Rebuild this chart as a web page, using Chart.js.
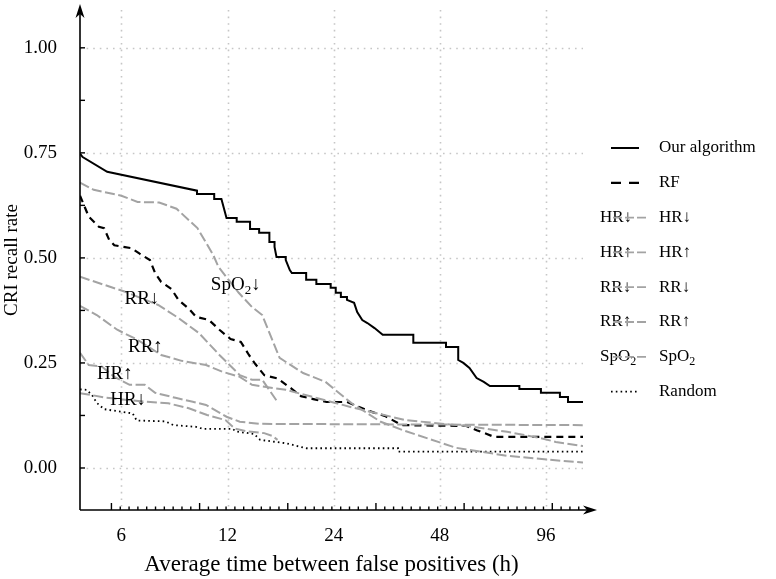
<!DOCTYPE html>
<html>
<head>
<meta charset="utf-8">
<script src="https://cdn.jsdelivr.net/npm/chart.js@4.4.0/dist/chart.umd.min.js"></script>
<style>
  html, body { margin: 0; padding: 0; background: #fff; }
</style>
</head>
<body>
<canvas id="criChart" width="776" height="579"></canvas>
<script>
// [average hours between false positives, CRI recall rate]
var ourAlgorithm = [
  [4.58, 0.748], [4.66, 0.74], [5.47, 0.705], [9.83, 0.66], [9.83, 0.652], [11.0, 0.652],
  [11.0, 0.64], [11.53, 0.64], [11.92, 0.595], [12.74, 0.595], [12.74, 0.586], [13.9, 0.586],
  [13.9, 0.569], [14.75, 0.569], [14.75, 0.56], [15.77, 0.56], [15.77, 0.538], [16.31, 0.538],
  [16.31, 0.526], [16.52, 0.502], [17.55, 0.502], [17.55, 0.495], [18.02, 0.471], [18.26, 0.464],
  [20.05, 0.464], [20.05, 0.448], [21.43, 0.448], [21.43, 0.438], [23.53, 0.438], [23.53, 0.429],
  [24.32, 0.429], [24.32, 0.417], [25.15, 0.417], [25.15, 0.407], [26.17, 0.407], [26.17, 0.4],
  [27.42, 0.393], [27.98, 0.371], [28.92, 0.352], [29.9, 0.345], [31.33, 0.333], [33.05, 0.317],
  [40.36, 0.317], [40.36, 0.298], [49.96, 0.298], [49.96, 0.288], [54.11, 0.288], [54.11, 0.257],
  [55.95, 0.25], [58.23, 0.238], [61.02, 0.214], [63.93, 0.205], [66.54, 0.195], [80.66, 0.195],
  [80.66, 0.188], [92.85, 0.188], [92.85, 0.179], [105.1, 0.179], [105.1, 0.169], [110.8, 0.169],
  [110.8, 0.157], [122.2, 0.157]
];
var rf = [
  [4.58, 0.648], [4.85, 0.598], [5.18, 0.574], [5.36, 0.571], [5.54, 0.543], [5.73, 0.53],
  [6.41, 0.523], [6.76, 0.51], [7.23, 0.495], [7.48, 0.464], [7.78, 0.443], [8.32, 0.426],
  [8.71, 0.4], [9.32, 0.379], [9.76, 0.36], [10.64, 0.352], [11.38, 0.329], [12.24, 0.307],
  [13.09, 0.3], [13.8, 0.269], [14.37, 0.248], [15.25, 0.221], [16.63, 0.213], [18.14, 0.19],
  [19.39, 0.171], [21.0, 0.164], [22.91, 0.157], [26.17, 0.157], [28.35, 0.145], [30.92, 0.133],
  [33.49, 0.124], [36.52, 0.107], [37.76, 0.102], [57.08, 0.1], [61.02, 0.09], [65.22, 0.081],
  [68.34, 0.074], [122.2, 0.074]
];
var spo2Down = [
  [4.58, 0.679], [5.01, 0.662], [6.0, 0.648], [6.67, 0.633], [7.68, 0.632], [8.6, 0.617],
  [9.86, 0.571], [10.93, 0.507], [11.3, 0.479], [12.91, 0.417], [14.08, 0.383], [15.05, 0.364],
  [16.86, 0.262], [19.65, 0.226], [22.75, 0.205], [26.88, 0.155], [32.61, 0.11], [38.27, 0.088],
  [53.4, 0.048], [74.46, 0.029], [97.0, 0.02], [122.2, 0.013]
];
var rrDown = [
  [4.58, 0.455], [6.12, 0.42], [7.63, 0.388], [8.71, 0.357], [9.96, 0.321], [11.38, 0.269],
  [13.0, 0.221], [14.08, 0.21], [15.05, 0.21], [16.63, 0.157]
];
var rrUp = [
  [4.58, 0.386], [5.11, 0.364], [5.84, 0.329], [6.67, 0.305], [7.78, 0.269], [8.89, 0.255],
  [10.43, 0.245], [11.61, 0.229], [13.0, 0.217], [14.08, 0.198], [17.55, 0.186], [27.42, 0.143],
  [38.27, 0.114], [53.4, 0.102], [59.81, 0.098], [74.46, 0.086], [92.85, 0.071], [102.3, 0.062],
  [122.2, 0.052]
];
var hrUp = [
  [4.58, 0.274], [4.85, 0.245], [5.29, 0.241], [5.73, 0.217], [6.33, 0.198], [6.99, 0.198],
  [7.48, 0.179], [8.54, 0.167], [9.5, 0.158], [10.43, 0.15], [11.92, 0.122], [13.0, 0.11],
  [14.85, 0.105], [122.2, 0.102]
];
var hrDown = [
  [4.58, 0.178], [4.91, 0.174], [5.43, 0.167], [6.99, 0.158], [8.15, 0.154], [9.32, 0.142],
  [10.5, 0.126], [11.84, 0.114], [12.57, 0.094], [13.62, 0.087], [15.25, 0.083], [16.09, 0.076],
  [16.63, 0.067]
];
var randomBaseline = [
  [4.58, 0.187], [4.78, 0.186], [4.95, 0.174], [5.11, 0.155], [5.36, 0.14], [5.96, 0.134],
  [6.46, 0.13], [6.63, 0.113], [7.99, 0.111], [8.43, 0.102], [9.76, 0.098], [10.23, 0.093],
  [12.41, 0.093], [12.66, 0.087], [14.27, 0.081], [14.85, 0.067], [17.55, 0.059], [20.05, 0.047],
  [36.52, 0.047], [36.52, 0.039], [122.2, 0.039]
];

var xTicks = [6, 12, 24, 48, 96];
var yTicks = [0, 0.25, 0.5, 0.75, 1];
// labels written next to the grey curves ("_" marks a subscript)
var curveLabels = ["SpO_2↓", "RR↓", "RR↑", "HR↑", "HR↓"];
var curveLabelAt = [[12.66, 0.436], [6.86, 0.402], [7.02, 0.287], [5.75, 0.224], [6.27, 0.162]];
var legendLabels = ["Our algorithm", "RF", "HR↓", "HR↑", "RR↓", "RR↑", "SpO_2", "Random"];

var FONT = '"Liberation Serif", "Times New Roman", serif';
var GREY = "#a3a3a3";
var AREA = { left: 80, right: 583, top: 10, bottom: 510 };

function pts(arr) {
  return arr.map(function (p) { return { x: p[0], y: p[1] }; });
}

// text with optional "_x" subscripts
function richWidth(ctx, text, size) {
  var w = 0;
  for (var i = 0; i < text.length; i++) {
    if (text[i] === "_") {
      ctx.font = Math.round(size * 0.68) + "px " + FONT;
      w += ctx.measureText(text[i + 1]).width;
      i++;
    } else {
      ctx.font = size + "px " + FONT;
      w += ctx.measureText(text[i]).width;
    }
  }
  return w;
}
function richText(ctx, text, x, y, size) {
  ctx.textBaseline = "middle";
  ctx.textAlign = "left";
  for (var i = 0; i < text.length; i++) {
    if (text[i] === "_") {
      ctx.font = Math.round(size * 0.68) + "px " + FONT;
      ctx.fillText(text[i + 1], x, y + size * 0.28);
      x += ctx.measureText(text[i + 1]).width;
      i++;
    } else {
      ctx.font = size + "px " + FONT;
      ctx.fillText(text[i], x, y);
      x += ctx.measureText(text[i]).width;
    }
  }
}

function seg(ctx, x1, y1, x2, y2) {
  ctx.beginPath();
  ctx.moveTo(x1, y1);
  ctx.lineTo(x2, y2);
  ctx.stroke();
}

function arrowHead(ctx, x, y, dir) {
  ctx.beginPath();
  if (dir === "up") {
    ctx.moveTo(x, y);
    ctx.lineTo(x - 4.5, y + 14);
    ctx.lineTo(x, y + 10);
    ctx.lineTo(x + 4.5, y + 14);
  } else {
    ctx.moveTo(x, y);
    ctx.lineTo(x - 14, y - 4.5);
    ctx.lineTo(x - 10, y);
    ctx.lineTo(x - 14, y + 4.5);
  }
  ctx.closePath();
  ctx.fill();
}

var axesAndNotes = {
  id: "axesAndNotes",
  beforeDatasetsDraw: function (chart) {
    var ctx = chart.ctx, a = chart.chartArea;
    var xs = chart.scales.x, ys = chart.scales.y;
    ctx.save();
    ctx.strokeStyle = "#c6c6c6";
    ctx.lineWidth = 1.6;
    ctx.setLineDash([1.6, 5]);
    xTicks.forEach(function (v) {
      var px = Math.round(xs.getPixelForValue(v)) + 0.5;
      seg(ctx, px, a.top, px, a.bottom);
    });
    yTicks.forEach(function (v) {
      var py = Math.round(ys.getPixelForValue(v)) + 0.5;
      seg(ctx, a.left, py, a.right, py);
    });
    ctx.restore();
  },
  afterDraw: function (chart) {
    var ctx = chart.ctx, a = chart.chartArea;
    var xs = chart.scales.x, ys = chart.scales.y;
    ctx.save();
    ctx.strokeStyle = "#000";
    ctx.fillStyle = "#000";
    ctx.lineWidth = 1.6;
    // axis lines with arrows
    seg(ctx, a.left, a.bottom, a.left, 9);
    arrowHead(ctx, a.left, 4, "up");
    seg(ctx, a.left, a.bottom, a.right + 9, a.bottom);
    arrowHead(ctx, a.right + 14, a.bottom, "right");
    // y ticks every 0.125, pointing inwards
    ctx.lineWidth = 1.4;
    for (var k = 0; k <= 8; k++) {
      var py = ys.getPixelForValue(k * 0.125);
      seg(ctx, a.left, py, a.left + 5, py);
    }
    // x ticks: linear in log10(hours), major every 0.25
    for (var j = 0; j < 60; j++) {
      var px = xs.getPixelForValue(Math.pow(10, 0.75 + 0.025 * j));
      if (px > a.right) break;
      seg(ctx, px, a.bottom, px, a.bottom - (j % 10 === 0 ? 7 : 3.5));
    }
    // labels on the grey curves
    curveLabels.forEach(function (t, i) {
      var w = richWidth(ctx, t, 19);
      var cx = xs.getPixelForValue(curveLabelAt[i][0]);
      var cy = ys.getPixelForValue(curveLabelAt[i][1]);
      richText(ctx, t, cx - w / 2, cy, 19);
    });
    // legend
    var lx = 611, tx = 659, y0 = 148, dy = 34.8, fs = 17;
    legendLabels.forEach(function (t, i) {
      var y = y0 + i * dy;
      ctx.fillStyle = "#000";
      richText(ctx, t, tx, y, fs);
      ctx.lineCap = "butt";
      if (i === 0) {
        ctx.strokeStyle = "#000"; ctx.lineWidth = 2; ctx.setLineDash([]);
        seg(ctx, lx, y, lx + 28, y);
      } else if (i === 1) {
        ctx.strokeStyle = "#000"; ctx.lineWidth = 2.2; ctx.setLineDash([10, 8]);
        seg(ctx, lx, y, lx + 30, y);
      } else if (i === 7) {
        ctx.strokeStyle = "#000"; ctx.lineWidth = 1.8; ctx.setLineDash([1.6, 3.2]);
        seg(ctx, lx, y, lx + 28, y);
      } else {
        richText(ctx, t, 600, y, fs);
        ctx.strokeStyle = GREY; ctx.lineWidth = 1.8; ctx.setLineDash([9, 3]);
        seg(ctx, lx + 2, y, lx + 36, y);
      }
      ctx.setLineDash([]);
    });
    ctx.restore();
  }
};

function greyLine(label, arr) {
  return {
    label: label,
    data: pts(arr),
    borderColor: GREY,
    borderWidth: 2,
    borderDash: [10, 3.5],
    fill: false
  };
}

var ctx = document.getElementById("criChart").getContext("2d");
var criChart = new Chart(ctx, {
  type: "line",
  plugins: [axesAndNotes],
  data: {
    datasets: [
      greyLine("SpO2↓", spo2Down),
      greyLine("RR↓", rrDown),
      greyLine("RR↑", rrUp),
      greyLine("HR↑", hrUp),
      greyLine("HR↓", hrDown),
      {
        label: "Random",
        data: pts(randomBaseline),
        borderColor: "#000",
        borderWidth: 1.8,
        borderDash: [1.6, 3.2],
        fill: false
      },
      {
        label: "RF",
        data: pts(rf),
        borderColor: "#000",
        borderWidth: 2.2,
        borderDash: [7, 5],
        fill: false
      },
      {
        label: "Our algorithm",
        data: pts(ourAlgorithm),
        borderColor: "#000",
        borderWidth: 2,
        fill: false
      }
    ]
  },
  options: {
    responsive: false,
    animation: false,
    devicePixelRatio: 1,
    events: [],
    layout: { padding: { left: 0, right: 776 - AREA.right, top: AREA.top, bottom: 0 } },
    elements: { point: { radius: 0 }, line: { tension: 0 } },
    plugins: {
      legend: { display: false },
      tooltip: { enabled: false }
    },
    scales: {
      x: {
        type: "logarithmic",
        min: 4.58,
        max: 122.2,
        afterBuildTicks: function (s) {
          s.ticks = xTicks.map(function (v) { return { value: v }; });
        },
        afterFit: function (s) {
          s.height = 579 - AREA.bottom;
          s.paddingLeft = 0; s.paddingRight = 0;
        },
        grid: { display: false },
        border: { display: false },
        ticks: {
          autoSkip: false,
          maxRotation: 0,
          padding: 7,
          color: "#000",
          font: { family: FONT, size: 19 },
          callback: function (v) { return String(v); }
        },
        title: {
          display: true,
          text: "Average time between false positives (h)",
          color: "#000",
          font: { family: FONT, size: 23 },
          padding: { top: 0, bottom: 0 }
        }
      },
      y: {
        type: "linear",
        min: -0.1,
        max: 1.09,
        afterBuildTicks: function (s) {
          s.ticks = yTicks.map(function (v) { return { value: v }; });
        },
        afterFit: function (s) {
          s.width = AREA.left;
          s.paddingTop = 0; s.paddingBottom = 0;
        },
        grid: { display: false },
        border: { display: false },
        ticks: {
          padding: 15,
          color: "#000",
          font: { family: FONT, size: 19 },
          callback: function (v) { return Number(v).toFixed(2); }
        },
        title: {
          display: true,
          text: "CRI recall rate",
          color: "#000",
          font: { family: FONT, size: 19 },
          padding: { top: 1, bottom: 0 }
        }
      }
    }
  }
});
</script>
</body>
</html>
